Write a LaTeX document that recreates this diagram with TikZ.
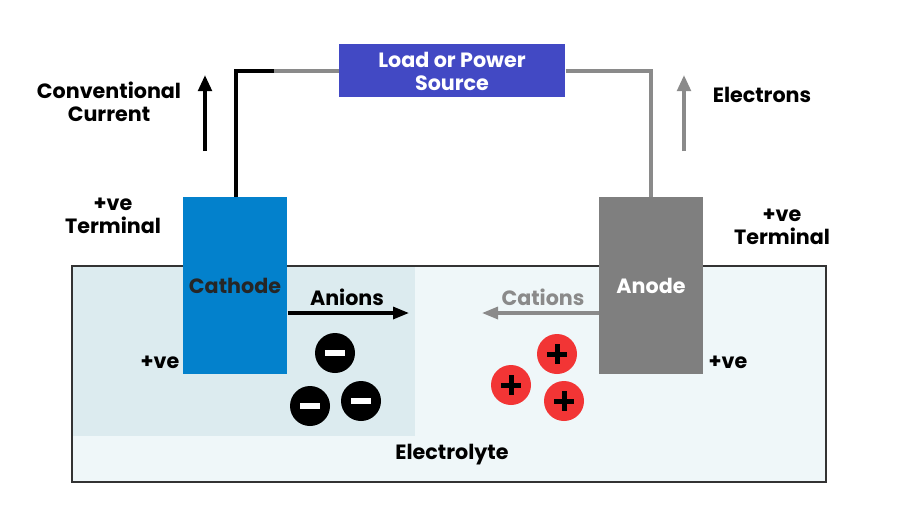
\documentclass[tikz,border=0pt]{standalone}
\usepackage{fontspec}
\setmainfont{Poppins}
\usetikzlibrary{arrows.meta}
\definecolor{loadblue}{HTML}{4249C4}
\definecolor{cathblue}{HTML}{0381CC}
\definecolor{anodegray}{HTML}{7F7F7F}
\definecolor{wiregray}{HTML}{8A8A8A}
\definecolor{elecfill}{HTML}{EFF7F9}
\definecolor{innerfill}{HTML}{DCEBEF}
\definecolor{ionred}{HTML}{F23535}
\tikzset{
  lbl/.style={font=\fontsize{15.5}{17.25}\selectfont\bfseries, align=center, inner sep=0pt},
  electrode/.style={draw=none, minimum width=78pt, minimum height=132.75pt, inner sep=0pt},
  wire/.style={line width=2.4pt},
  bigarrow/.style={line width=2.8pt, -{Triangle[length=12pt,width=10pt]}},
  ionarrow/.style={line width=2.4pt, -{Triangle[length=12pt,width=9pt]}},
  anion/.style={circle, fill=black, minimum size=30pt, inner sep=0pt},
  cation/.style={circle, fill=ionred, minimum size=30pt, inner sep=0pt}
}
\begin{document}
\begin{tikzpicture}[x=0.75pt,y=-0.75pt]
\useasboundingbox (0,0) rectangle (900,522);
\fill[white] (0,0) rectangle (900,522);
% electrolyte
\draw[fill=elecfill, draw=black!80, line width=0.8pt] (72,266) rectangle (826,482);
\fill[innerfill] (73,267) rectangle (415,436);
% electrodes
\node[electrode, fill=cathblue, anchor=north west] (cath) at (183,197) {};
\node[electrode, fill=anodegray, anchor=north west] (anode) at (599,197) {};
\node[lbl, text=black!85] (cathlbl) at (235,286) {Cathode};
\node[lbl, text=white] (anodelbl) at (651,286) {Anode};
% load
\node[fill=loadblue, minimum width=169.5pt, minimum height=39.75pt, inner sep=0pt, anchor=north west] (load) at (339,44) {};
\node[lbl, text=white] (loadlbl) at (452,71) {Load or Power\\Source};
% wires
\coordinate (lc) at (236,71);
\coordinate (lm) at (274,71);
\coordinate (rc) at (651,71);
\draw[wire, wiregray] (lm) -- (load.west |- lm);
\draw[wire, black] (cath.north -| lc) -- (lc) -- (lm);
\draw[wire, wiregray] (load.east |- rc) -- (rc) -- (anode.north -| rc);
% big arrows
\coordinate (cc0) at (205,151);
\coordinate (cc1) at (205,75);
\draw[bigarrow, black] (cc0) -- (cc1);
\coordinate (el0) at (684,151);
\coordinate (el1) at (684,75);
\draw[bigarrow, wiregray] (el0) -- (el1);
\node[lbl] (conv) at (109,102) {Conventional\\Current};
\node[lbl] (electrons) at (762,95) {Electrons};
\node[lbl] (termL) at (113,216) {+ve\\Terminal};
\node[lbl] (termR) at (782,227) {+ve\\Terminal};
\node[lbl] (veL) at (160,362) {+ve};
\node[lbl] (veR) at (728,362) {+ve};
% ion arrows
\coordinate (an1) at (409,313);
\draw[ionarrow, black] (cath.east |- an1) -- (an1);
\coordinate (ca1) at (482,313);
\draw[ionarrow, wiregray] (anode.west |- ca1) -- (ca1);
\node[lbl] (anions) at (347,297) {Anions};
\node[lbl, text=wiregray] (cations) at (543,297) {Cations};
% ions
\foreach \n/\x/\y in {a1/335/353, a2/310/406, a3/361/401}{
  \node[anion] (\n) at (\x,\y) {};
  \fill[white] (\x-10,\y-3) rectangle (\x+10,\y+3);
}
\foreach \n/\x/\y in {c1/557/354, c2/511/385, c3/564/401}{
  \node[cation] (\n) at (\x,\y) {};
  \fill[black] (\x-10,\y-2.5) rectangle (\x+10,\y+2.5);
  \fill[black] (\x-2.5,\y-10) rectangle (\x+2.5,\y+10);
}
\node[lbl] (electrolyte) at (452,455) {Electrolyte};
\end{tikzpicture}
\end{document}
